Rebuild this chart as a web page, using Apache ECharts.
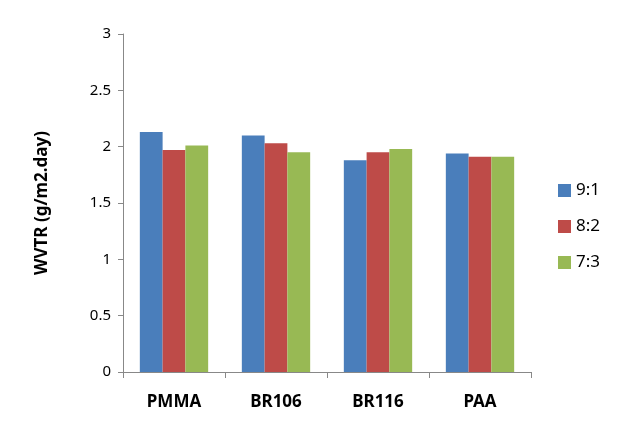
<!DOCTYPE html>
<html>
<head>
<meta charset="utf-8">
<script src="https://cdn.jsdelivr.net/npm/echarts@6/dist/echarts.min.js"></script>
<style>
  html, body { margin: 0; padding: 0; background: #fff; }
  #chart { width: 629px; height: 447px; }
</style>
</head>
<body>
<div id="chart"></div>
<script>
const categories = ['PMMA', 'BR106', 'BR116', 'PAA'];
const seriesNames = ['9:1', '8:2', '7:3'];
const ratio91 = [2.13, 2.10, 1.88, 1.94];
const ratio82 = [1.97, 2.03, 1.95, 1.91];
const ratio73 = [2.01, 1.95, 1.98, 1.91];
const colors = ['#4A7EBB', '#BE4B48', '#98B954'];

const chart = echarts.init(document.getElementById('chart'));

const options = {
    animation: false,
    color: colors,
    grid: { left: 123, right: 98, top: 34, bottom: 75 },
    legend: {
        orient: 'vertical',
        left: 553,
        top: 177,
        itemWidth: 13,
        itemHeight: 13,
        itemGap: 19,
        icon: 'rect',
        textStyle: { fontSize: 17, color: '#000', fontFamily: 'Noto Sans' },
        data: seriesNames
    },
    xAxis: {
        type: 'category',
        data: categories,
        axisLine: { lineStyle: { color: '#888' } },
        axisTick: { show: true, length: 6, lineStyle: { color: '#888' } },
        axisLabel: {
            fontSize: 17, fontWeight: 'bold', color: '#000',
            fontFamily: 'Noto Sans', margin: 22
        }
    },
    yAxis: {
        type: 'value',
        min: 0,
        max: 3,
        interval: 0.5,
        name: 'WVTR (g/m2.day)',
        nameLocation: 'middle',
        nameGap: 72,
        nameTextStyle: { fontSize: 17, fontWeight: 'bold', color: '#000', fontFamily: 'Noto Sans' },
        splitLine: { show: false },
        axisLine: { show: true, lineStyle: { color: '#888' } },
        axisTick: { show: true, length: 5, lineStyle: { color: '#888' } },
        axisLabel: { fontSize: 15, color: '#000', fontFamily: 'Noto Sans', margin: 12 }
    },
    series: [
        { name: seriesNames[0], type: 'bar', data: ratio91, barGap: '0%', barCategoryGap: '33%' },
        { name: seriesNames[1], type: 'bar', data: ratio82, barGap: '0%', barCategoryGap: '33%' },
        { name: seriesNames[2], type: 'bar', data: ratio73, barGap: '0%', barCategoryGap: '33%' }
    ]
};

chart.setOption(options);
</script>
</body>
</html>
